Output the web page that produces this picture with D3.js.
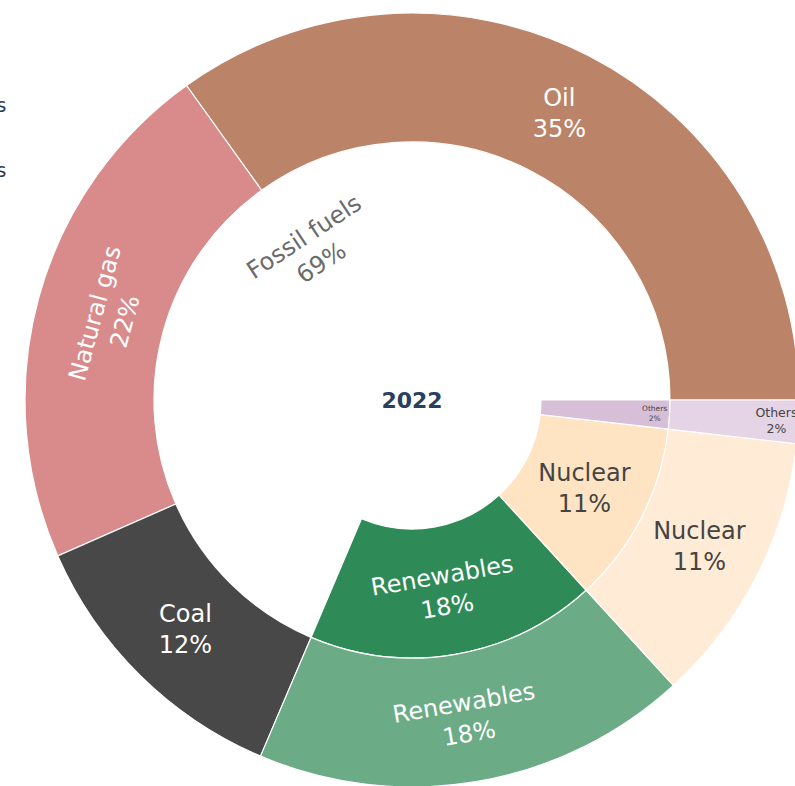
<!DOCTYPE html>
<html><head><meta charset="utf-8">
<script src="https://cdn.jsdelivr.net/npm/d3@7"></script>
<style>html,body{margin:0;padding:0;background:#fff;overflow:hidden}</style>
</head><body>
<svg id="chart" width="795" height="786"></svg>
<script>
// ---- data ----
const year = "2022";
const groups = ["Fossil fuels", "Renewables", "Nuclear", "Others"];
const sources = ["Oil", "Natural gas", "Coal", "Renewables", "Nuclear", "Others"];
const sourceGroup = ["Fossil fuels", "Fossil fuels", "Fossil fuels", "Renewables", "Nuclear", "Others"];
const sourceShare = [34.9, 21.7, 12.0, 18.2, 11.4, 1.8];
const legendStubs = ["Fossil fuels", "Renewables"]; // texts cut off at the left edge

// ---- styles ----
const W = 795, H = 786, cx = 412, cy = 400, R = 387;
const font = "'DejaVu Sans', Verdana, sans-serif";
const groupColor = {"Fossil fuels": "#ffffff", "Renewables": "#2e8b57", "Nuclear": "#ffe4c4", "Others": "#d8bfd8"};
const sourceColor = {"Oil": "#bb8468", "Natural gas": "#d98b8b", "Coal": "#484848", "Renewables": "#6bab86", "Nuclear": "#ffebd6", "Others": "#e5d3e6"};
const darkText = "#444444";
const whiteTextOn = ["Oil", "Natural gas", "Coal", "Renewables"];
const horizontalLabels = ["Oil", "Coal", "Nuclear", "Others"];
const radialNudge = {"Natural gas": -9, "Fossil fuels": -13};

const svg = d3.select("#chart");

const data = {
  name: year,
  children: groups.map(g => ({
    name: g,
    children: sources.map((s, i) => ({name: s, group: sourceGroup[i], value: sourceShare[i]}))
                     .filter(d => d.group === g)
  }))
};

const root = d3.hierarchy(data).sum(d => d.value || 0);
d3.partition().size([2 * Math.PI, R])(root);

// partition x = math angle (ccw from 3 o'clock); d3.arc angle = clockwise from 12 o'clock
const arc = d3.arc()
  .startAngle(d => Math.PI / 2 - d.x0)
  .endAngle(d => Math.PI / 2 - d.x1)
  .innerRadius(d => d.y0)
  .outerRadius(d => d.y1);

const g = svg.append("g").attr("transform", `translate(${cx},${cy})`);

const nodes = root.descendants().filter(d => d.depth > 0);

g.selectAll("path.slice").data(nodes).join("path")
  .attr("class", "slice")
  .attr("d", arc)
  .attr("fill", d => d.depth === 1 ? groupColor[d.data.name] : sourceColor[d.data.name])
  .attr("stroke", "#ffffff")
  .attr("stroke-width", 1.2);

// centre
g.append("text")
  .attr("x", 0).attr("y", 0).attr("dy", "0.36em")
  .attr("text-anchor", "middle")
  .attr("font-family", font).attr("font-weight", "bold").attr("font-size", 22)
  .attr("fill", "#2a3f5f")
  .text(root.data.name);

// labels
const total = root.value;
nodes.forEach(d => {
  const name = d.data.name;
  const m = (d.x0 + d.x1) / 2;
  const small = (d.x1 - d.x0) < 0.2;
  let r = (d.y0 + d.y1) / 2;
  let size = 24;
  if (small) {
    r = d.y1 - (d.depth === 2 ? 22 : 15);
    size = d.depth === 2 ? 12.5 : 7.5;
  }
  let rot = 0;
  if (!horizontalLabels.includes(name)) {
    rot = -(m * 180 / Math.PI - 90);
    while (rot > 90) rot -= 180;
    while (rot < -90) rot += 180;
    if (radialNudge[name] && !(name === "Renewables")) r += radialNudge[name];
  }
  const x = r * Math.cos(m), y = -r * Math.sin(m);
  let color;
  if (d.depth === 1 && name === "Fossil fuels") color = "#6b6b6b";
  else if (d.depth === 1 && name === "Renewables") color = "#ffffff";
  else if (d.depth === 2 && whiteTextOn.includes(name)) color = "#ffffff";
  else color = darkText;

  const t = g.append("text")
    .attr("transform", `translate(${x},${y}) rotate(${rot})`)
    .attr("text-anchor", "middle")
    .attr("font-family", font).attr("font-size", size)
    .attr("fill", color);
  t.append("tspan").attr("x", 0).attr("y", -0.3 * size).text(name);
  t.append("tspan").attr("x", 0).attr("y", 1.0 * size).text(Math.round(d.value / total * 100) + "%");
});

// cut-off texts at the left edge
svg.selectAll("text.stub").data(legendStubs).join("text")
  .attr("class", "stub")
  .attr("x", 6.5)
  .attr("y", (d, i) => 112 + i * 65)
  .attr("text-anchor", "end")
  .attr("font-family", font).attr("font-size", 20)
  .attr("fill", "#2a3f5f")
  .text(d => d);
</script>
</body></html>
